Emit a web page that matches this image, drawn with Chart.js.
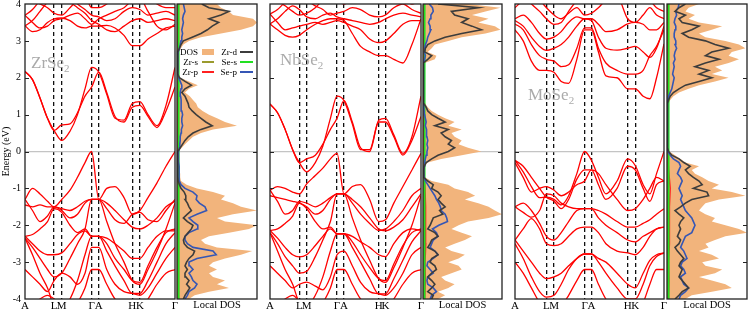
<!DOCTYPE html>
<html>
<head>
<meta charset="utf-8">
<script src="https://cdn.jsdelivr.net/npm/chart.js@4/dist/chart.umd.min.js"></script>
<style>
body { margin: 0; background: #fff; }
#fig { position: relative; width: 748px; height: 312px; overflow: hidden; font-family: 'Liberation Serif', serif; }
#fig canvas { position: absolute; top: 0; }
.cmp { position: absolute; color: #aaa; font-size: 17px; line-height: 17px; white-space: nowrap; z-index: 5; }
.cmp sub { font-size: 11px; vertical-align: -4px; line-height: 0; }
.lg { position: absolute; font-size: 9px; line-height: 10px; text-align: right; width: 30px; z-index: 5; }
.sw { position: absolute; z-index: 5; }
</style>
</head>
<body>
<div id="fig">
  <canvas id="band1" width="181" height="312" style="left:0px"></canvas>
  <canvas id="band2" width="165" height="312" style="left:262px"></canvas>
  <canvas id="band3" width="164" height="312" style="left:507px"></canvas>
  <canvas id="dos1" width="84" height="312" style="left:175px"></canvas>
  <canvas id="dos2" width="83" height="312" style="left:421px"></canvas>
  <canvas id="dos3" width="83" height="312" style="left:665px"></canvas>

  <div class="cmp" style="left:31px;top:54px">ZrSe<sub>2</sub></div>
  <div class="cmp" style="left:280px;top:51px">NbSe<sub>2</sub></div>
  <div class="cmp" style="left:528px;top:86px">MoSe<sub>2</sub></div>

  <div class="lg" style="left:168px;top:47px">DOS</div>
  <div class="sw" style="left:202px;top:49px;width:12px;height:6px;background:#f2b47c"></div>
  <div class="lg" style="left:207px;top:47px">Zr-d</div>
  <div class="sw" style="left:240px;top:51px;width:13px;height:2px;background:#3c3c3c"></div>
  <div class="lg" style="left:168px;top:57px">Zr-s</div>
  <div class="sw" style="left:202px;top:61px;width:12px;height:2px;background:#9b9b2e"></div>
  <div class="lg" style="left:207px;top:57px">Se-s</div>
  <div class="sw" style="left:240px;top:61px;width:13px;height:2px;background:#22e022"></div>
  <div class="lg" style="left:168px;top:67px">Zr-p</div>
  <div class="sw" style="left:202px;top:71px;width:12px;height:2px;background:#ff2020"></div>
  <div class="lg" style="left:207px;top:67px">Se-p</div>
  <div class="sw" style="left:240px;top:71px;width:13px;height:2px;background:#3556b5"></div>
</div>

<script>
// ---- k-path (fraction of path length) ----
const kLabels = ['A', 'L', 'M', 'Γ', 'A', 'H', 'K', 'Γ'];
const kTicksZr = [0, 0.194, 0.245, 0.444, 0.492, 0.715, 0.766, 1];
const kTicksNb = [0, 0.194, 0.243, 0.444, 0.49, 0.72, 0.765, 1];
const kTicksMo = [0, 0.211, 0.262, 0.467, 0.513, 0.756, 0.807, 1];

const kZr = [0, 0.05, 0.10, 0.15, 0.194, 0.245, 0.30, 0.35, 0.40, 0.444, 0.492, 0.545, 0.60, 0.66, 0.715, 0.766, 0.82, 0.88, 0.94, 1.0];
const kNb = [0, 0.05, 0.10, 0.15, 0.194, 0.243, 0.30, 0.35, 0.40, 0.444, 0.49, 0.545, 0.60, 0.66, 0.72, 0.765, 0.82, 0.88, 0.94, 1.0];
const kMo = [0, 0.055, 0.11, 0.165, 0.211, 0.262, 0.31, 0.36, 0.415, 0.467, 0.513, 0.56, 0.61, 0.685, 0.756, 0.807, 0.86, 0.905, 0.95, 1.0];

// ---- band energies (eV) at the k points above ----
const bandsZr = [
  [3.41, 3.25, 3.3, 3.5, 3.6, 3.62, 3.55, 3.4, 3.35, 3.4, 3.4, 3.42, 3.35, 3.15, 2.87, 2.87, 3.05, 3.2, 3.35, 3.4],
  [3.69, 3.5, 3.35, 3.4, 3.55, 3.6, 3.7, 3.75, 3.6, 3.45, 3.6, 3.7, 3.8, 3.9, 4.1, 4.15, 3.8, 3.4, 3.3, 3.45],
  [3.41, 3.55, 3.8, 4.05, 4.2, 4.2, 4.05, 3.9, 3.75, 3.55, 3.45, 3.3, 3.25, 3.4, 3.55, 3.6, 3.5, 3.55, 3.6, 3.55],
  [3.69, 3.85, 4.1, 4.3, 4.3, 4.3, 4.2, 4.0, 3.85, 3.7, 3.65, 3.55, 3.6, 3.8, 3.9, 3.85, 3.7, 3.75, 3.8, 3.7],
  [4.2, 4.1, 4.0, 3.9, 3.75, 3.7, 3.9, 4.1, 4.2, 3.9, 3.9, 4.0, 4.2, 4.3, 4.3, 4.3, 4.2, 4.0, 3.9, 3.9],
  [2.17, 1.95, 1.45, 0.9, 0.57, 0.30, 0.55, 1.0, 1.7, 2.28, 2.15, 1.55, 0.9, 0.85, 1.3, 1.35, 1.0, 0.7, 1.25, 2.28],
  [2.17, 1.95, 1.45, 0.9, 0.57, 0.72, 0.75, 1.05, 1.5, 1.75, 2.15, 1.6, 0.95, 0.8, 1.2, 1.25, 0.95, 0.65, 1.1, 1.75],
  [-1.3, -1.0, -1.15, -1.35, -1.5, -1.3, -1.05, -0.7, -0.3, 0.0, -1.3, -1.0, -0.95, -1.25, -1.7, -1.6, -1.25, -0.85, -0.4, 0.0],
  [-1.3, -1.6, -1.9, -1.75, -1.5, -1.55, -1.6, -1.5, -1.35, -1.3, -1.3, -1.55, -1.85, -1.95, -1.7, -1.65, -1.85, -1.9, -1.6, -1.3],
  [-1.45, -1.5, -1.45, -1.5, -1.5, -1.6, -1.8, -1.7, -1.4, -1.3, -1.3, -1.4, -1.6, -1.85, -2.05, -2.1, -2.0, -1.8, -1.5, -1.35],
  [-2.3, -2.25, -2.1, -1.9, -1.55, -1.65, -2.0, -2.2, -2.1, -2.3, -2.3, -2.35, -2.5, -2.7, -2.9, -2.9, -2.6, -2.3, -2.15, -2.15],
  [-2.3, -2.5, -2.7, -2.8, -2.8, -2.75, -2.5, -2.25, -2.15, -2.3, -2.3, -2.5, -2.9, -3.2, -3.5, -3.55, -3.1, -2.6, -2.2, -2.1],
  [-2.35, -2.6, -2.9, -3.2, -3.4, -3.3, -2.9, -2.5, -2.1, -1.3, -1.3, -1.9, -2.5, -3.0, -3.5, -3.6, -3.2, -2.7, -2.1, -1.4],
  [-2.35, -2.8, -3.3, -3.7, -4.2, -4.3, -4.0, -3.5, -2.8, -2.3, -2.3, -2.7, -3.1, -3.5, -3.85, -3.85, -3.5, -3.0, -2.5, -2.2],
  [-3.2, -3.4, -3.6, -3.8, -3.5, -3.3, -3.4, -3.6, -3.3, -2.6, -2.6, -3.2, -3.6, -3.8, -3.85, -3.9, -3.7, -3.3, -2.9, -2.6],
  [-4.3, -4.2, -4.0, -3.9, -4.0, -4.2, -4.3, -4.1, -3.7, -3.2, -3.2, -3.6, -4.0, -4.2, -4.3, -4.3, -4.0, -3.6, -3.3, -3.2]
];

const bandsNb = [
  [3.46, 3.3, 3.15, 3.1, 3.15, 3.3, 3.45, 3.55, 3.6, 3.6, 3.55, 3.2, 2.85, 2.7, 2.6, 2.6, 2.5, 2.4, 2.9, 3.6],
  [3.73, 3.5, 3.3, 3.35, 3.4, 3.45, 3.5, 3.45, 3.5, 3.55, 3.5, 3.4, 3.3, 3.05, 2.95, 3.0, 3.2, 3.45, 3.55, 3.55],
  [3.46, 3.6, 3.8, 3.95, 3.85, 3.65, 3.6, 3.7, 3.75, 3.65, 3.6, 3.55, 3.5, 3.45, 3.5, 3.6, 3.7, 3.75, 3.7, 3.65],
  [3.73, 3.85, 4.05, 4.2, 4.2, 4.1, 3.95, 3.85, 3.7, 3.75, 3.8, 3.9, 3.85, 3.7, 3.65, 3.7, 3.9, 4.0, 3.85, 3.75],
  [4.2, 4.1, 3.95, 3.8, 3.7, 3.75, 3.9, 4.1, 4.2, 4.1, 4.0, 4.1, 4.2, 4.3, 4.2, 4.1, 4.05, 4.1, 4.0, 4.1],
  [1.29, 1.05, 0.6, 0.05, -0.3, -0.55, -0.3, 0.15, 0.9, 1.5, 1.38, 0.75, 0.05, 0.05, 0.85, 0.9, 0.45, -0.05, 0.4, 1.5],
  [1.29, 1.05, 0.6, 0.05, -0.3, -0.2, -0.1, 0.2, 0.6, 0.9, 1.38, 0.8, 0.1, 0.0, 0.8, 0.8, 0.4, -0.1, 0.3, 0.95],
  [-1.05, -0.95, -1.0, -1.1, -1.15, -0.88, -0.65, -0.45, -0.2, -0.05, -1.15, -0.95, -0.9, -1.3, -1.9, -1.85, -1.4, -0.95, -0.5, -0.05],
  [-1.05, -1.35, -1.7, -1.6, -1.35, -1.4, -1.5, -1.4, -1.25, -1.15, -1.15, -1.4, -1.7, -1.95, -2.14, -2.1, -1.9, -1.6, -1.2, -1.0],
  [-1.2, -1.25, -1.3, -1.35, -1.4, -1.5, -1.7, -1.6, -1.3, -1.15, -1.15, -1.3, -1.5, -1.8, -2.1, -2.15, -2.05, -1.85, -1.5, -1.15],
  [-2.14, -2.1, -1.95, -1.75, -1.4, -1.55, -1.9, -2.1, -2.05, -2.23, -2.23, -2.3, -2.45, -2.6, -2.8, -2.85, -2.5, -2.2, -2.1, -2.14],
  [-2.14, -2.35, -2.6, -2.8, -2.86, -2.8, -2.55, -2.3, -2.1, -2.23, -2.23, -2.45, -2.8, -3.15, -3.45, -3.5, -3.05, -2.55, -2.2, -2.1],
  [-2.2, -2.5, -2.85, -3.1, -3.3, -3.25, -2.85, -2.4, -1.9, -1.15, -1.15, -1.8, -2.4, -2.95, -3.45, -3.55, -3.15, -2.6, -2.0, -1.2],
  [-2.2, -2.7, -3.2, -3.6, -4.1, -4.2, -3.9, -3.4, -2.7, -2.23, -2.23, -2.6, -3.0, -3.45, -3.86, -3.86, -3.45, -2.95, -2.45, -2.15],
  [-3.1, -3.3, -3.5, -3.7, -3.6, -3.54, -3.65, -3.75, -3.4, -2.8, -2.7, -3.1, -3.55, -3.8, -3.86, -3.9, -3.7, -3.3, -2.8, -2.6],
  [-4.3, -4.2, -4.0, -3.9, -4.05, -4.2, -4.3, -4.1, -3.7, -3.2, -3.2, -3.6, -4.0, -4.2, -4.3, -4.3, -4.0, -3.6, -3.3, -3.2]
];

const bandsMo = [
  [3.3, 3.0, 2.45, 2.2, 2.2, 2.15, 1.9, 1.85, 2.5, 3.3, 3.3, 2.7, 2.05, 2.0, 1.7, 1.7, 1.5, 1.43, 2.0, 2.92],
  [3.46, 3.3, 2.9, 2.6, 2.5, 2.45, 2.3, 2.35, 2.8, 3.35, 3.35, 2.8, 2.4, 2.2, 2.1, 2.1, 2.2, 2.6, 2.85, 3.3],
  [3.55, 3.4, 3.1, 2.85, 2.74, 2.8, 2.9, 3.1, 3.4, 3.6, 3.55, 3.1, 2.8, 2.75, 2.8, 2.85, 2.7, 2.55, 2.8, 3.4],
  [3.6, 3.7, 3.5, 3.2, 3.05, 3.1, 3.25, 3.5, 3.65, 3.6, 3.6, 3.45, 3.25, 3.3, 3.46, 3.5, 3.45, 3.3, 3.3, 3.5],
  [3.9, 4.1, 4.2, 4.1, 3.9, 3.7, 3.6, 3.75, 3.9, 3.7, 3.75, 3.9, 4.1, 4.2, 3.6, 3.5, 3.7, 3.9, 3.7, 3.6],
  [4.3, 4.2, 4.0, 3.8, 3.6, 3.45, 3.5, 3.8, 4.1, 4.3, 4.2, 4.3, 4.3, 4.3, 4.3, 4.3, 4.25, 4.1, 3.9, 3.8],
  [-0.24, -0.55, -0.95, -1.25, -1.24, -1.3, -1.45, -1.2, -0.6, 0.0, -0.24, -0.7, -1.15, -0.8, -0.2, -0.38, -0.9, -1.15, -0.6, 0.0],
  [-0.3, -0.7, -1.1, -1.0, -0.95, -1.05, -1.2, -1.1, -0.9, -0.8, -0.5, -0.9, -1.3, -1.0, -0.4, -0.5, -1.0, -1.35, -0.9, -0.8],
  [-0.24, -0.4, -0.7, -1.0, -1.24, -1.35, -1.55, -1.3, -0.75, -0.5, -0.5, -0.6, -0.9, -1.3, -1.6, -1.55, -1.3, -1.0, -0.7, -0.8],
  [-1.5, -1.65, -1.78, -1.6, -1.15, -1.2, -1.4, -1.5, -1.55, -1.55, -1.55, -1.6, -1.7, -1.9, -2.05, -2.05, -1.95, -1.85, -1.7, -1.55],
  [-1.5, -1.4, -1.6, -1.95, -2.3, -2.4, -2.2, -1.9, -1.6, -1.55, -1.55, -1.8, -2.0, -2.2, -2.4, -2.45, -2.3, -2.2, -2.1, -2.05],
  [-2.4, -2.1, -1.82, -2.1, -2.5, -2.55, -2.5, -2.3, -2.1, -2.05, -2.05, -2.2, -2.5, -2.7, -2.75, -2.8, -2.6, -2.3, -2.1, -2.05],
  [-2.4, -2.7, -3.0, -3.3, -3.45, -3.4, -3.3, -3.1, -2.9, -2.78, -2.78, -2.9, -3.0, -3.3, -3.6, -3.7, -3.3, -2.95, -2.8, -2.75],
  [-2.5, -2.9, -3.4, -3.8, -3.95, -3.9, -3.6, -3.2, -2.9, -2.78, -2.78, -3.0, -3.3, -3.7, -4.0, -4.0, -3.6, -3.1, -2.85, -2.75],
  [-3.0, -3.3, -3.7, -4.1, -4.3, -4.3, -4.2, -3.9, -3.5, -3.2, -3.2, -3.6, -4.0, -4.3, -4.4, -4.4, -4.1, -3.6, -3.2, -3.2]
];

// ---- DOS energy grid (eV) ----
const energies = [
  -4.0, -3.9, -3.8, -3.7, -3.6, -3.5, -3.4, -3.3, -3.2, -3.1,
  -3.0, -2.9, -2.8, -2.7, -2.6, -2.5, -2.4, -2.3, -2.2, -2.1,
  -2.0, -1.9, -1.8, -1.7, -1.6, -1.5, -1.4, -1.3, -1.2, -1.1,
  -1.0, -0.9, -0.8, -0.7, -0.6, -0.5, -0.4, -0.3, -0.2, -0.1,
  0.0, 0.1, 0.2, 0.3, 0.4, 0.5, 0.6, 0.7, 0.8, 0.9,
  1.0, 1.1, 1.2, 1.3, 1.4, 1.5, 1.6, 1.7, 1.8, 1.9,
  2.0, 2.1, 2.2, 2.3, 2.4, 2.5, 2.6, 2.7, 2.8, 2.9,
  3.0, 3.1, 3.2, 3.3, 3.4, 3.5, 3.6, 3.7, 3.8, 3.9, 4.0
];
const energiesCoarse = [-4, -3.5, -3, -2.5, -2, -1.5, -1, -0.5, 0, 0.5, 1, 1.5, 2, 2.5, 3, 3.5, 4];

// ZrSe2
const dosZr = [
  1.5, 2.2, 4.0, 6.5, 5.0, 6.0, 4.5, 4.0, 5.0, 4.0,
  4.5, 6.0, 8.0, 9.4, 5.0, 3.5, 3.0, 4.0, 6.5, 9.0,
  10.0, 6.0, 5.0, 7.0, 10.0, 8.0, 7.0, 5.5, 6.0, 4.5,
  2.5, 1.2, 0.5, 0.4, 0.4, 0.3, 0.3, 0.2, 0.2, 0.1,
  0.2, 0.6, 1.0, 1.5, 2.0, 3.0, 4.5, 7.5, 6.0, 5.0,
  4.0, 3.2, 2.6, 2.4, 2.0, 1.6, 1.0, 1.5, 2.6, 1.5,
  0.4, 0.1, 0.1, 0.1, 0.1, 0.1, 0.1, 0.2, 0.5, 0.8,
  1.5, 3.0, 5.5, 8.0, 9.5, 10.0, 9.5, 7.0, 6.5, 5.5, 5.0
];
const zrD = [
  0.8, 1.0, 1.3, 1.6, 1.2, 1.5, 1.1, 1.0, 1.3, 1.0,
  1.2, 1.5, 2.0, 2.2, 1.3, 0.9, 0.8, 1.0, 1.4, 1.8,
  2.0, 1.3, 0.8, 1.3, 1.8, 1.5, 1.3, 1.0, 1.1, 0.9,
  0.5, 0.3, 0.15, 0.1, 0.1, 0.1, 0.1, 0.1, 0.1, 0.05,
  0.1, 0.4, 0.7, 1.0, 1.4, 2.0, 3.0, 4.4, 3.6, 3.0,
  2.4, 1.9, 1.5, 1.4, 1.2, 1.0, 0.6, 1.0, 1.8, 1.0,
  0.3, 0.1, 0.1, 0.1, 0.1, 0.1, 0.1, 0.1, 0.3, 0.5,
  0.8, 1.9, 3.0, 3.8, 4.4, 5.2, 4.0, 5.5, 6.5, 4.0, 3.1
];
const zrSeP = [
  1.0, 1.3, 1.5, 2.2, 2.5, 2.0, 1.8, 1.5, 2.0, 1.6,
  1.5, 2.5, 4.9, 4.5, 2.0, 1.3, 1.0, 1.0, 1.5, 2.5,
  2.6, 2.0, 1.5, 2.5, 3.7, 3.5, 2.8, 2.4, 2.5, 2.0,
  1.0, 0.5, 0.3, 0.25, 0.25, 0.3, 0.25, 0.2, 0.2, 0.15,
  0.2, 0.3, 0.35, 0.4, 0.4, 0.5, 0.55, 0.7, 0.6, 0.6,
  0.7, 0.6, 0.5, 0.55, 0.5, 0.45, 0.4, 0.5, 0.6, 0.4,
  0.2, 0.1, 0.1, 0.1, 0.1, 0.1, 0.1, 0.15, 0.3, 0.4,
  0.5, 0.6, 0.7, 0.6, 0.7, 0.8, 0.7, 0.8, 1.0, 0.9, 0.8
];
const zrS = [0.1, 0.1, 0.12, 0.1, 0.12, 0.12, 0.1, 0.06, 0.04, 0.04, 0.06, 0.06, 0.08, 0.06, 0.08, 0.1, 0.1];
const zrSeS = [0.22, 0.2, 0.2, 0.22, 0.2, 0.2, 0.22, 0.2, 0.18, 0.18, 0.2, 0.2, 0.18, 0.18, 0.2, 0.2, 0.22];
const zrP = [0.14, 0.18, 0.15, 0.2, 0.18, 0.22, 0.15, 0.1, 0.04, 0.04, 0.08, 0.08, 0.04, 0.04, 0.08, 0.12, 0.12];

// NbSe2
const dosNb = [
  1.9, 2.8, 1.9, 3.2, 4.0, 2.8, 2.3, 3.6, 4.9, 4.5,
  3.2, 4.5, 5.3, 3.6, 2.8, 4.0, 5.3, 6.2, 4.9, 3.6,
  4.5, 5.7, 8.3, 10.0, 9.1, 8.3, 7.0, 5.3, 6.6, 5.7,
  4.0, 3.2, 1.1, 0.2, 0.1, 0.1, 0.2, 0.6, 2.3, 4.9,
  7.4, 5.7, 4.5, 4.9, 4.0, 3.6, 4.9, 3.2, 4.0, 2.8,
  1.9, 1.1, 0.6, 0.3, 0.1, 0.1, 0.1, 0.1, 0.1, 0.1,
  0.1, 0.1, 0.1, 0.1, 0.2, 1.5, 1.7, 0.6, 1.1, 1.5,
  3.2, 4.9, 7.9, 9.8, 9.1, 7.0, 8.3, 6.2, 7.9, 9.8, 5.7
];
const nbD = [
  1.1, 1.3, 0.6, 1.1, 1.5, 1.1, 0.6, 1.1, 1.7, 1.5,
  0.9, 1.1, 1.9, 1.5, 0.6, 0.9, 1.1, 1.9, 1.5, 0.6,
  0.9, 1.1, 1.3, 2.5, 2.1, 2.8, 2.3, 1.9, 2.3, 1.9,
  1.1, 1.3, 0.6, 0.1, 0.1, 0.1, 0.15, 0.4, 1.1, 1.9,
  3.2, 4.0, 3.2, 3.6, 2.8, 2.3, 3.2, 1.5, 2.8, 1.9,
  1.1, 0.6, 0.4, 0.1, 0.05, 0.05, 0.05, 0.05, 0.05, 0.05,
  0.05, 0.05, 0.05, 0.05, 0.1, 0.6, 1.1, 0.2, 0.3, 0.6,
  1.5, 2.8, 4.9, 7.4, 6.2, 4.9, 5.7, 4.0, 3.6, 7.0, 1.9
];
const nbSeP = [
  0.9, 1.1, 1.7, 1.3, 0.6, 0.5, 0.6, 1.3, 0.9, 0.5,
  0.6, 1.3, 1.9, 1.5, 0.9, 1.1, 1.3, 1.9, 1.7, 1.2,
  2.0, 3.1, 3.0, 2.8, 2.3, 2.2, 2.0, 1.7, 1.5, 1.2,
  0.9, 0.6, 0.3, 0.15, 0.1, 0.1, 0.15, 0.2, 0.3, 0.4,
  0.5, 0.6, 0.5, 0.6, 0.5, 0.4, 0.5, 0.3, 0.4, 0.3,
  0.2, 0.15, 0.1, 0.05, 0.05, 0.05, 0.05, 0.05, 0.05, 0.05,
  0.05, 0.05, 0.05, 0.05, 0.05, 0.2, 0.3, 0.15, 0.2, 0.3,
  0.5, 0.6, 0.8, 1.0, 0.9, 0.7, 0.9, 1.0, 1.3, 1.2, 0.8
];
const nbS = [0.1, 0.1, 0.12, 0.1, 0.12, 0.12, 0.1, 0.06, 0.06, 0.06, 0.05, 0.05, 0.05, 0.05, 0.08, 0.1, 0.1];
const nbSeS = [0.2, 0.22, 0.2, 0.2, 0.22, 0.2, 0.2, 0.18, 0.2, 0.2, 0.18, 0.18, 0.18, 0.18, 0.2, 0.2, 0.2];
const nbP = [0.2, 0.3, 0.25, 0.35, 0.3, 0.35, 0.25, 0.1, 0.1, 0.08, 0.05, 0.04, 0.04, 0.05, 0.1, 0.14, 0.12];

// MoSe2
const dosMo = [
  2.3, 3.1, 5.6, 8.1, 7.3, 5.6, 4.0, 6.0, 6.9, 4.8,
  4.4, 6.5, 5.6, 4.0, 5.2, 4.8, 6.0, 7.3, 10.0, 9.0,
  7.3, 5.6, 6.0, 4.8, 4.0, 4.4, 4.8, 6.5, 9.8, 8.1,
  5.6, 6.5, 5.2, 4.4, 3.5, 3.1, 4.0, 2.3, 1.7, 1.0,
  0.3, 0.05, 0.05, 0.05, 0.05, 0.05, 0.05, 0.05, 0.05, 0.05,
  0.05, 0.05, 0.05, 0.2, 0.4, 0.8, 1.5, 2.7, 4.0, 6.0,
  7.7, 5.6, 6.9, 6.0, 7.7, 9.0, 7.7, 8.1, 9.8, 9.0,
  7.3, 4.8, 4.0, 5.6, 6.9, 4.0, 2.7, 3.5, 2.3, 2.7, 4.0
];
const moD = [
  1.0, 1.5, 1.9, 2.7, 2.3, 1.9, 1.5, 1.7, 1.9, 1.5,
  1.7, 2.1, 1.7, 1.3, 1.0, 1.5, 1.7, 1.3, 1.5, 1.7,
  1.5, 1.7, 2.1, 1.5, 1.0, 1.7, 2.3, 3.1, 5.2, 5.0,
  3.3, 4.4, 4.0, 3.3, 2.7, 2.3, 2.9, 2.1, 1.5, 0.6,
  0.2, 0.05, 0.05, 0.05, 0.05, 0.05, 0.05, 0.05, 0.05, 0.05,
  0.05, 0.05, 0.05, 0.05, 0.2, 0.4, 0.8, 1.5, 2.3, 4.0,
  5.6, 4.0, 5.2, 3.5, 4.8, 6.5, 4.8, 5.6, 7.7, 6.0,
  4.8, 2.7, 1.9, 3.1, 4.0, 1.9, 1.5, 2.3, 1.0, 1.5, 2.3
];
const moSeP = [
  1.5, 1.7, 2.3, 2.7, 2.1, 1.9, 1.7, 2.3, 2.1, 1.7,
  1.9, 2.5, 2.3, 2.1, 1.7, 1.9, 2.1, 2.3, 3.1, 3.3,
  3.5, 3.3, 3.1, 2.7, 2.3, 2.1, 1.9, 1.7, 1.9, 1.7,
  1.5, 1.7, 1.9, 1.7, 1.3, 1.5, 1.7, 1.5, 0.8, 0.4,
  0.1, 0.05, 0.05, 0.05, 0.05, 0.05, 0.05, 0.05, 0.05, 0.05,
  0.05, 0.05, 0.05, 0.05, 0.05, 0.2, 0.4, 0.6, 0.7, 0.8,
  0.9, 0.7, 0.8, 0.9, 0.8, 1.0, 0.9, 1.0, 1.2, 1.0,
  1.1, 0.9, 0.9, 1.0, 1.1, 0.9, 1.0, 1.2, 1.1, 1.4, 1.5
];
const moS = [0.1, 0.12, 0.1, 0.12, 0.1, 0.12, 0.12, 0.08, 0.04, 0.04, 0.04, 0.06, 0.08, 0.08, 0.1, 0.1, 0.1];
const moSeS = [0.2, 0.2, 0.22, 0.2, 0.2, 0.2, 0.2, 0.18, 0.18, 0.18, 0.18, 0.18, 0.2, 0.2, 0.2, 0.22, 0.2];
const moP = [0.18, 0.25, 0.2, 0.3, 0.25, 0.35, 0.4, 0.2, 0.05, 0.04, 0.04, 0.05, 0.08, 0.1, 0.12, 0.12, 0.12];

// ---- common styling ----
Chart.defaults.font.family = "'Liberation Serif', 'Times New Roman', serif";
Chart.defaults.color = '#000';

const ORANGE = '#f2b47c';
const ZERO_GRAY = '#c4c4c4';

// frame + inward tick marks
const framePlugin = {
    id: 'frame',
    afterDatasetsDraw(chart, args, opts) {
        const { ctx, chartArea: a } = chart;
        const y = chart.scales.y;
        ctx.save();
        ctx.strokeStyle = '#222';
        ctx.lineWidth = 1.3;
        ctx.strokeRect(a.left, a.top, a.right - a.left, a.bottom - a.top);
        ctx.lineWidth = 1;
        y.ticks.forEach(t => {
            if (t.value <= -4 || t.value >= 4) return;
            const py = Math.round(y.getPixelForValue(t.value)) + 0.5;
            ctx.beginPath();
            if (opts.side === 'left') {
                ctx.moveTo(a.left, py);
                ctx.lineTo(a.left + 4, py);
            } else {
                ctx.moveTo(a.right, py);
                ctx.lineTo(a.right - 4, py);
            }
            ctx.stroke();
        });
        ctx.restore();
    }
};

function zeroLine(c) {
    return c.tick && c.tick.value === 0 ? ZERO_GRAY : 'transparent';
}

function bandChart(id, kGrid, kTicks, bands, yWidth, padRight, showY) {
    const datasets = bands.map(b => ({
        data: b.map((e, i) => ({ x: kGrid[i], y: e })),
        borderColor: '#ff0000',
        borderWidth: 1.3,
        pointRadius: 0,
        cubicInterpolationMode: 'monotone',
        fill: false
    }));
    return new Chart(document.getElementById(id), {
        type: 'line',
        data: { datasets },
        plugins: [framePlugin],
        options: {
            responsive: false,
            animation: false,
            devicePixelRatio: 1,
            layout: { padding: { top: 4, right: padRight, left: 0, bottom: 0 } },
            plugins: {
                legend: { display: false },
                tooltip: { enabled: false },
                frame: { side: 'left' }
            },
            scales: {
                x: {
                    type: 'linear',
                    min: 0,
                    max: 1,
                    afterBuildTicks: s => { s.ticks = kTicks.map(v => ({ value: v })); },
                    afterFit: s => { s.height = 13; s.paddingLeft = 0; s.paddingRight = 0; },
                    ticks: {
                        autoSkip: false,
                        maxRotation: 0,
                        padding: 1,
                        font: { size: 11 },
                        callback: (v, i) => kLabels[i]
                    },
                    grid: {
                        drawTicks: false,
                        lineWidth: 1.3,
                        color: c => (c.index > 0 && c.index < kTicks.length - 1) ? '#111' : 'transparent'
                    },
                    border: { display: false, dash: [4, 3] }
                },
                y: {
                    type: 'linear',
                    min: -4,
                    max: 4,
                    afterFit: s => { s.width = yWidth; s.paddingTop = 0; s.paddingBottom = 0; },
                    ticks: { stepSize: 1, display: showY, padding: 4, font: { size: 10 } },
                    grid: { drawTicks: false, lineWidth: 1.2, color: zeroLine },
                    border: { display: false },
                    title: { display: showY, text: 'Energy (eV)', padding: 0, font: { size: 10 } }
                }
            }
        }
    });
}

function xy(xs, ys) {
    return xs.map((v, i) => ({ x: v, y: ys[i] }));
}

function dosChart(id, sp, yWidth, padRight) {
    const line = (vals, grid, color, width, order) => ({
        data: xy(vals, grid),
        borderColor: color,
        borderWidth: width,
        pointRadius: 0,
        fill: false,
        order
    });
    const datasets = [
        {
            data: xy(sp.total, energies),
            backgroundColor: ORANGE,
            borderColor: 'transparent',
            borderWidth: 1,
            pointRadius: 0,
            fill: 'origin',
            order: 9
        },
        line(sp.mS, energiesCoarse, '#9b9b2e', 1.5, 5),
        line(sp.mP, energiesCoarse, '#ff2020', 1.5, 4),
        line(sp.seS, energiesCoarse, '#22e022', 2, 3),
        line(sp.seP, energies, '#3556b5', 1.6, 2),
        line(sp.d, energies, '#3c3c3c', 1.6, 1)
    ];
    return new Chart(document.getElementById(id), {
        type: 'line',
        data: { datasets },
        plugins: [framePlugin],
        options: {
            indexAxis: 'y',
            responsive: false,
            animation: false,
            devicePixelRatio: 1,
            layout: { padding: { top: 4, right: padRight, left: 0, bottom: 0 } },
            plugins: {
                legend: { display: false },
                tooltip: { enabled: false },
                frame: { side: 'right' }
            },
            scales: {
                x: {
                    type: 'linear',
                    min: 0,
                    max: 10,
                    afterFit: s => { s.height = 13; s.paddingLeft = 0; s.paddingRight = 0; },
                    ticks: { display: false },
                    grid: { display: false },
                    border: { display: false },
                    title: { display: true, text: 'Local DOS', padding: 0, font: { size: 10.5 } }
                },
                y: {
                    type: 'linear',
                    min: -4,
                    max: 4,
                    afterFit: s => { s.width = yWidth; s.paddingTop = 0; s.paddingBottom = 0; },
                    ticks: { stepSize: 1, display: false },
                    grid: { drawTicks: false, lineWidth: 1.2, color: zeroLine },
                    border: { display: false }
                }
            }
        }
    });
}

bandChart('band1', kZr, kTicksZr, bandsZr, 25, 6, true);
bandChart('band2', kNb, kTicksNb, bandsNb, 8, 6, false);
bandChart('band3', kMo, kTicksMo, bandsMo, 8, 7, false);

dosChart('dos1', { total: dosZr, d: zrD, seP: zrSeP, mS: zrS, seS: zrSeS, mP: zrP }, 2, 2);
dosChart('dos2', { total: dosNb, d: nbD, seP: nbSeP, mS: nbS, seS: nbSeS, mP: nbP }, 2, 2);
dosChart('dos3', { total: dosMo, d: moD, seP: moSeP, mS: moS, seS: moSeS, mP: moP }, 2, 1);
</script>
</body>
</html>
